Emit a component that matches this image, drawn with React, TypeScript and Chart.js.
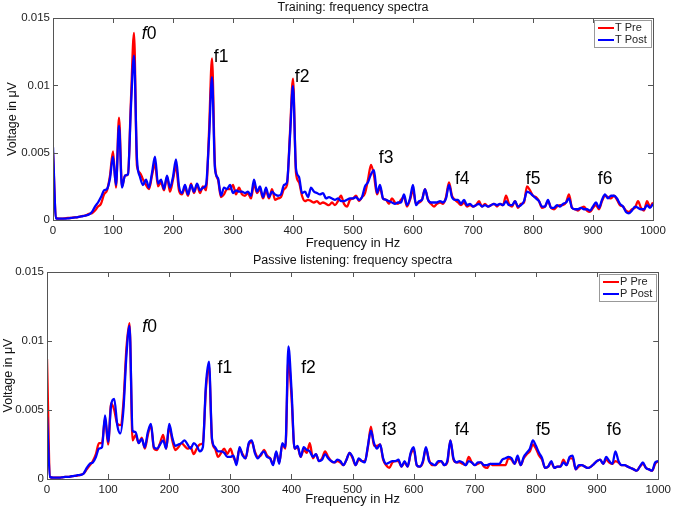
import React, { useEffect, useRef } from 'react';
import { Chart, registerables } from 'chart.js';

Chart.register(...registerables);

// Frequency grid in Hz (5 Hz spacing, 0..1000)
const FREQS: number[] = Array.from({ length: 201 }, (_, i) => i * 5);

// Values in units of 0.001 (axis unit)
const T_PRE = [
  5.0, 0.15, 0.1, 0.1, 0.12, 0.15, 0.15, 0.2, 0.2, 0.25,
  0.3, 0.35, 0.45, 0.5, 0.7, 1.0, 1.2, 1.9, 2.2, 3.3,
  5.1, 2.4, 7.6, 2.5, 3.3, 3.4, 9.0, 13.9, 4.0, 3.5,
  3.0, 2.6, 2.3, 3.3, 4.2, 2.5, 2.8, 2.2, 3.2, 2.1,
  3.0, 4.0, 2.2, 1.9, 2.4, 1.8, 2.7, 2.0, 2.6, 2.0,
  2.5, 2.2, 6.5, 12.0, 4.0, 3.0, 1.7, 1.9, 2.3, 2.3,
  2.6, 1.9, 2.4, 1.9, 1.8, 2.0, 1.6, 2.7, 2.0, 2.3,
  1.6, 2.2, 1.6, 2.3, 1.5, 1.6, 1.7, 2.3, 2.6, 6.5,
  10.5, 3.5, 2.8, 1.8, 1.4, 1.5, 1.4, 1.3, 1.4, 1.2,
  1.3, 1.2, 1.1, 1.3, 1.1, 1.4, 1.8, 1.2, 1.0, 1.5,
  1.6, 1.8, 1.4, 1.7, 2.0, 3.0, 4.1, 3.3, 1.9, 2.4,
  1.6, 1.5, 1.2, 1.6, 1.3, 1.2, 1.5, 1.7, 1.0, 1.5,
  2.2, 1.2, 1.3, 1.5, 2.3, 1.5, 1.2, 1.0, 1.2, 1.3,
  1.2, 1.7, 2.8, 1.8, 1.5, 1.3, 1.1, 1.3, 1.0, 1.1,
  1.0, 1.1, 1.4, 1.0, 1.2, 1.0, 1.1, 1.2, 1.0, 1.2,
  1.1, 1.8, 1.2, 1.0, 1.4, 0.9, 1.2, 1.3, 2.5, 2.2,
  1.8, 1.7, 1.4, 0.9, 1.0, 1.4, 0.9, 0.8, 1.0, 1.1,
  1.1, 1.3, 1.9, 0.9, 0.8, 0.7, 0.9, 1.0, 0.7, 0.6,
  0.9, 1.1, 0.8, 1.4, 1.8, 1.7, 1.6, 1.8, 1.5, 1.1,
  1.0, 0.7, 0.6, 0.8, 0.9, 1.4, 0.9, 0.7, 1.4, 1.0,
  1.3,
];

const T_POST = [
  5.4, 0.1, 0.1, 0.1, 0.1, 0.12, 0.15, 0.18, 0.2, 0.25,
  0.28, 0.35, 0.4, 0.6, 1.0, 1.3, 1.7, 2.2, 2.3, 3.1,
  4.7, 2.6, 7.0, 2.4, 3.3, 3.4, 8.5, 12.2, 4.5, 3.2,
  2.6, 3.0, 2.4, 3.5, 4.7, 2.7, 3.0, 2.3, 3.3, 2.4,
  3.2, 4.5, 2.5, 2.0, 2.6, 1.9, 2.6, 2.1, 2.7, 2.2,
  2.4, 2.6, 6.0, 10.6, 3.8, 3.1, 1.8, 2.4, 2.3, 2.6,
  2.0, 2.2, 2.1, 2.1, 2.0, 2.1, 1.8, 3.0, 2.1, 2.5,
  1.7, 2.4, 1.7, 2.1, 1.9, 1.8, 1.9, 2.6, 2.8, 6.2,
  9.95, 3.8, 3.2, 2.0, 2.1, 1.7, 2.4, 2.1, 2.0, 1.9,
  2.0, 1.6, 1.7, 1.6, 1.5, 1.6, 1.4, 1.4, 1.5, 1.6,
  1.6, 1.7, 1.5, 1.7, 2.5, 2.8, 3.4, 3.7, 2.0, 2.6,
  1.6, 1.5, 1.4, 1.3, 1.2, 1.3, 1.3, 1.9, 1.1, 1.6,
  2.6, 1.1, 1.4, 1.5, 2.3, 1.5, 1.3, 1.3, 1.3, 1.4,
  1.3, 1.6, 2.6, 1.7, 1.5, 1.5, 1.2, 1.5, 1.1, 1.2,
  1.0, 1.1, 1.2, 1.0, 1.1, 1.0, 1.1, 1.2, 1.1, 1.2,
  1.1, 1.4, 1.1, 1.1, 1.4, 1.0, 1.1, 1.4, 2.1, 2.0,
  1.8, 1.6, 1.4, 1.0, 1.0, 1.5, 0.9, 0.9, 1.1, 1.0,
  1.2, 1.3, 1.6, 0.9, 0.8, 0.8, 0.9, 0.8, 0.8, 0.7,
  1.0, 1.3, 0.9, 1.5, 1.9, 1.6, 1.8, 1.8, 1.6, 1.2,
  1.0, 0.6, 0.5, 0.7, 1.0, 0.9, 0.8, 0.8, 1.1, 0.9,
  1.2,
];

const P_PRE = [
  8.7, 0.15, 0.1, 0.1, 0.1, 0.12, 0.15, 0.15, 0.2, 0.22,
  0.25, 0.3, 0.4, 0.7, 1.0, 1.3, 1.8, 2.6, 2.6, 4.4,
  2.5, 5.5, 5.0, 4.0, 3.9, 5.5, 9.5, 11.3, 2.8, 3.2,
  2.6, 3.0, 2.2, 3.2, 3.9, 2.2, 2.1, 2.6, 3.2, 2.2,
  3.8, 2.8, 2.1, 2.3, 2.6, 2.4, 2.2, 2.3, 1.8, 2.2,
  2.5, 2.6, 6.5, 8.2, 2.8, 2.2, 1.6, 1.9, 2.2, 1.8,
  2.2, 1.6, 1.2, 2.2, 1.8, 1.5, 2.5, 2.7, 2.0, 1.6,
  1.7, 2.1, 1.7, 1.5, 1.1, 1.9, 1.2, 2.5, 2.2, 8.7,
  6.0, 2.2, 2.3, 1.6, 2.1, 1.9, 2.6, 1.5, 1.8, 1.3,
  1.5, 2.0, 1.6, 1.3, 1.2, 1.3, 1.2, 1.0, 1.4, 1.9,
  1.5, 1.0, 1.4, 1.3, 1.3, 2.3, 3.8, 2.4, 2.4, 2.5,
  1.4, 1.0, 0.8, 1.2, 1.3, 1.3, 0.9, 1.2, 0.9, 1.8,
  2.1, 1.0, 0.9, 1.2, 2.2, 1.4, 1.0, 1.0, 1.2, 1.3,
  1.0, 1.2, 2.8, 1.4, 1.2, 1.2, 1.1, 1.0, 1.6, 1.2,
  1.0, 1.1, 1.2, 0.9, 0.8, 1.1, 1.0, 1.0, 1.0, 1.0,
  1.0, 1.5, 1.4, 1.1, 1.5, 1.0, 1.5, 1.8, 2.0, 2.5,
  2.2, 1.7, 1.4, 0.8, 0.9, 1.2, 0.8, 0.9, 0.9, 1.4,
  1.0, 1.5, 1.5, 0.7, 0.9, 1.0, 0.9, 0.8, 0.9, 1.1,
  1.3, 1.4, 1.1, 1.4, 1.2, 1.1, 1.3, 1.2, 1.0, 1.0,
  0.9, 0.8, 0.7, 0.6, 0.9, 1.1, 0.8, 0.7, 0.6, 1.1,
  1.3,
];

const P_POST = [
  4.5, 0.15, 0.1, 0.1, 0.1, 0.12, 0.15, 0.15, 0.2, 0.22,
  0.28, 0.3, 0.4, 0.8, 1.1, 1.2, 1.6, 2.2, 2.3, 4.6,
  2.7, 5.4, 5.8, 3.9, 3.3, 5.0, 9.0, 11.1, 3.5, 3.4,
  2.6, 2.9, 2.3, 3.4, 4.0, 2.3, 2.2, 2.5, 2.8, 2.2,
  4.0, 3.0, 2.4, 2.5, 2.6, 2.8, 2.5, 2.2, 2.6, 2.4,
  2.0, 2.3, 6.8, 8.5, 2.9, 2.3, 2.0, 2.0, 1.9, 1.6,
  1.6, 1.7, 1.0, 2.3, 1.7, 1.5, 2.6, 2.8, 1.9, 1.5,
  1.8, 2.0, 1.6, 1.5, 1.0, 2.0, 1.1, 2.6, 2.3, 9.6,
  6.5, 2.2, 2.4, 1.6, 2.3, 2.1, 2.0, 1.6, 1.8, 1.3,
  1.4, 1.8, 1.5, 1.3, 1.2, 1.4, 1.3, 1.0, 1.4, 1.9,
  1.6, 1.0, 1.5, 1.3, 1.2, 2.4, 3.5, 2.6, 2.2, 2.5,
  1.5, 1.1, 1.2, 1.3, 1.3, 1.4, 0.9, 1.3, 0.9, 1.9,
  2.3, 1.0, 0.9, 1.3, 2.3, 1.3, 1.1, 1.0, 1.3, 1.3,
  1.0, 1.3, 2.8, 1.5, 1.2, 1.3, 1.2, 1.0, 1.3, 1.2,
  1.0, 1.2, 1.2, 1.0, 1.0, 1.1, 1.1, 1.1, 1.1, 1.4,
  1.5, 1.6, 1.5, 1.1, 1.7, 1.0, 1.6, 1.9, 2.2, 2.8,
  2.4, 1.9, 1.5, 0.8, 0.9, 1.3, 0.8, 0.9, 0.9, 1.2,
  1.0, 1.6, 1.7, 0.7, 1.0, 1.0, 0.9, 0.8, 0.9, 1.1,
  1.3, 1.4, 1.1, 1.6, 1.3, 1.1, 2.0, 1.3, 1.0, 1.0,
  0.9, 0.8, 0.7, 0.6, 0.9, 1.2, 0.8, 0.7, 0.6, 1.2,
  1.3,
];

// Harmonic labels and their anchor points (Hz, units of 0.001)
const NOTE_LABELS = ['f0', 'f1', 'f2', 'f3', 'f4', 'f5', 'f6'];
const T_NOTE_FREQ = [148, 268, 403, 543, 670, 788, 908];
const T_NOTE_VAL = [13.8, 12.1, 10.6, 4.6, 3.0, 3.0, 3.0];
const P_NOTE_FREQ = [156, 279, 416, 548, 667, 800, 916];
const P_NOTE_VAL = [11.0, 8.0, 8.0, 3.55, 3.55, 3.55, 3.55];

const FONT = '"Liberation Sans", Arial, sans-serif';
const Y_UNIT = 0.001;

const matlabPlugin = {
  id: 'matlabBox',
  afterDatasetsDraw(chart: any, _args: any, opts: any) {
    const { ctx, chartArea: a, scales } = chart;
    const x = scales.x;
    const y = scales.y;
    ctx.save();
    // box
    ctx.strokeStyle = '#555';
    ctx.lineWidth = 1;
    ctx.strokeRect(Math.round(a.left) + 0.5, Math.round(a.top) + 0.5, Math.round(a.right - a.left), Math.round(a.bottom - a.top));
    // inward ticks
    const tl = 5;
    ctx.beginPath();
    x.ticks.forEach((t: any) => {
      const px = Math.round(x.getPixelForValue(t.value)) + 0.5;
      ctx.moveTo(px, a.bottom);
      ctx.lineTo(px, a.bottom - tl);
      ctx.moveTo(px, a.top);
      ctx.lineTo(px, a.top + tl);
    });
    y.ticks.forEach((t: any) => {
      const py = Math.round(y.getPixelForValue(t.value)) + 0.5;
      ctx.moveTo(a.left, py);
      ctx.lineTo(a.left + tl, py);
      ctx.moveTo(a.right, py);
      ctx.lineTo(a.right - tl, py);
    });
    ctx.stroke();

    // harmonic labels
    ctx.fillStyle = '#000';
    ctx.textBaseline = 'middle';
    ctx.textAlign = 'left';
    (opts.notes || []).forEach((n: any) => {
      const px = x.getPixelForValue(n.f);
      const py = y.getPixelForValue(n.v * Y_UNIT);
      if (n.label === 'f0') {
        ctx.font = `italic 17.5px ${FONT}`;
        ctx.fillText('f', px, py);
        const w = ctx.measureText('f').width;
        ctx.font = `17.5px ${FONT}`;
        ctx.fillText('0', px + w, py);
      } else {
        ctx.font = `17.5px ${FONT}`;
        ctx.fillText(n.label, px, py);
      }
    });

    // legend box
    const ds = chart.data.datasets;
    ctx.font = `11px ${FONT}`;
    const tw = Math.max(...ds.map((d: any) => ctx.measureText(d.label).width));
    const bw = Math.round(22 + tw + 3);
    const rowH = 12;
    const bh = ds.length * rowH + 3;
    const bx = Math.round(a.right) - 2 - bw;
    const by = Math.round(a.top) + 2;
    ctx.fillStyle = '#fff';
    ctx.fillRect(bx, by, bw, bh);
    ctx.strokeStyle = '#999';
    ctx.strokeRect(bx + 0.5, by + 0.5, bw, bh);
    ds.forEach((d: any, i: number) => {
      const ry = by + 8 + i * rowH;
      ctx.strokeStyle = d.borderColor;
      ctx.lineWidth = 2;
      ctx.beginPath();
      ctx.moveTo(bx + 4, ry);
      ctx.lineTo(bx + 20, ry);
      ctx.stroke();
      ctx.fillStyle = '#222';
      ctx.textBaseline = 'middle';
      ctx.fillText(d.label, bx + 21, ry);
    });
    ctx.restore();
  },
};

type PanelProps = {
  title: string;
  preLabel: string;
  postLabel: string;
  pre: number[];
  post: number[];
  noteFreq: number[];
  noteVal: number[];
  width: number;
  height: number;
  titleBox: [number, number];
  yWidth: number;
  yTitlePad: number;
  xHeight: number;
  rightPad: number;
};

function Panel(p: PanelProps) {
  const ref = useRef<HTMLCanvasElement | null>(null);
  useEffect(() => {
    if (!ref.current) return;
    const toPts = (arr: number[]) => FREQS.map((f, i) => ({ x: f, y: arr[i] * Y_UNIT }));
    const notes = NOTE_LABELS.map((label, i) => ({ label, f: p.noteFreq[i], v: p.noteVal[i] }));
    const chart = new Chart(ref.current, {
      type: 'line',
      data: {
        datasets: [
          {
            label: p.preLabel,
            data: toPts(p.pre),
            borderColor: '#ff0000',
            backgroundColor: '#ff0000',
            borderWidth: 2.3,
            pointRadius: 0,
            cubicInterpolationMode: 'monotone',
            order: 1,
          },
          {
            label: p.postLabel,
            data: toPts(p.post),
            borderColor: '#0000ff',
            backgroundColor: '#0000ff',
            borderWidth: 2.3,
            pointRadius: 0,
            cubicInterpolationMode: 'monotone',
            order: 0,
          },
        ],
      },
      options: {
        responsive: false,
        animation: false,
        layout: { padding: { left: 0, right: p.rightPad, top: 0, bottom: 0 } },
        plugins: {
          legend: { display: false },
          tooltip: { enabled: false },
          title: {
            display: true,
            text: p.title,
            fullSize: false,
            color: '#111',
            font: { family: FONT, size: 12.5, weight: 'normal', lineHeight: 1.1 },
            padding: { top: p.titleBox[0], bottom: p.titleBox[1] },
          },
          matlabBox: { notes },
        } as any,
        scales: {
          x: {
            type: 'linear',
            min: 0,
            max: 1000,
            grid: { display: false, drawTicks: false },
            border: { display: false },
            ticks: {
              stepSize: 100,
              padding: 4,
              color: '#222',
              font: { family: FONT, size: 11.5 },
              maxRotation: 0,
              callback: (v: any) => String(v),
            },
            title: {
              display: true,
              text: 'Frequency in Hz',
              color: '#111',
              font: { family: FONT, size: 13 },
              padding: { top: 0, bottom: 2 },
            },
            afterFit: (s: any) => {
              s.height = p.xHeight;
            },
          },
          y: {
            min: 0,
            max: 0.015,
            grid: { display: false, drawTicks: false },
            border: { display: false },
            ticks: {
              stepSize: 0.005,
              padding: 3,
              color: '#222',
              font: { family: FONT, size: 11.5 },
              callback: (v: any) => (v === 0 ? '0' : String(parseFloat(Number(v).toFixed(4)))),
            },
            title: {
              display: true,
              text: 'Voltage in μV',
              color: '#111',
              font: { family: FONT, size: 12.5 },
              padding: { top: p.yTitlePad, bottom: 0 },
            },
            afterFit: (s: any) => {
              s.width = p.yWidth;
            },
          },
        },
      } as any,
      plugins: [matlabPlugin as any],
    });
    return () => chart.destroy();
  }, []);
  return <canvas ref={ref} width={p.width} height={p.height} style={{ display: 'block' }} />;
}

export default function App() {
  return (
    <div style={{ position: 'absolute', left: 0, top: 0, width: 675, height: 509, background: '#fff' }}>
      <Panel
        title="Training: frequency spectra"
        preLabel="T Pre"
        postLabel="T Post"
        pre={T_PRE}
        post={T_POST}
        noteFreq={T_NOTE_FREQ}
        noteVal={T_NOTE_VAL}
        width={675}
        height={253}
        titleBox={[1, 3.25]}
        yWidth={53}
        yTitlePad={5}
        xHeight={33}
        rightPad={22}
      />
      <Panel
        title="Passive listening: frequency spectra"
        preLabel="P Pre"
        postLabel="P Post"
        pre={P_PRE}
        post={P_POST}
        noteFreq={P_NOTE_FREQ}
        noteVal={P_NOTE_VAL}
        width={675}
        height={256}
        titleBox={[0.5, 4.75]}
        yWidth={47}
        yTitlePad={1.5}
        xHeight={30}
        rightPad={15}
      />
    </div>
  );
}
